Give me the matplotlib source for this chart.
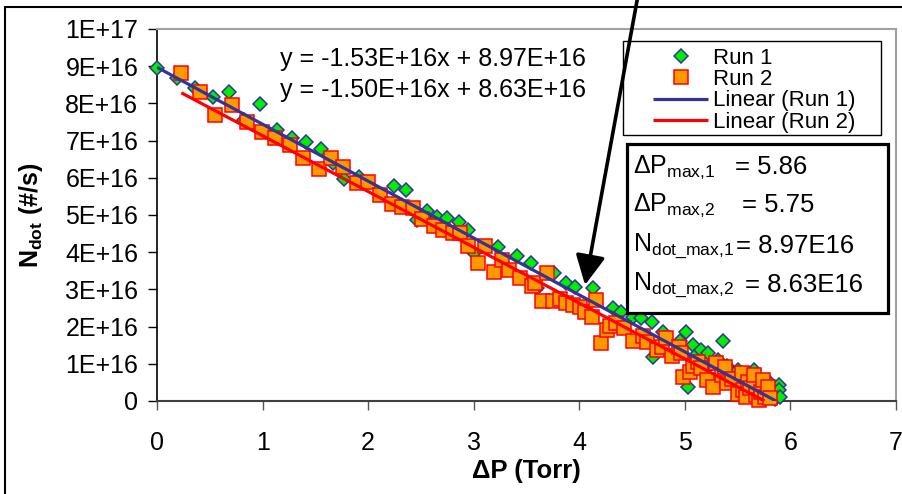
import matplotlib
matplotlib.use("Agg")
import matplotlib.pyplot as plt
from matplotlib.patches import Rectangle
from matplotlib.ticker import FuncFormatter
import numpy as np

plt.rcParams["font.family"] = ["Liberation Sans", "DejaVu Sans"]
plt.rcParams["mathtext.default"] = "regular"

# ---- data: pressure drop (Torr) vs. dot flow rate (units of 1E16 #/s) ----
run1_dp = [0.00, 0.19, 0.36, 0.53, 0.68, 0.82, 0.98, 1.14, 1.28, 1.41,
           1.55, 1.67, 1.77, 1.91, 2.24, 2.36, 2.46, 2.56, 2.65, 2.75,
           2.86, 2.95, 3.00, 3.23, 3.41, 3.54, 3.60, 3.76, 3.87, 3.96,
           4.13, 4.32, 4.39, 4.51, 4.58, 4.69, 4.70, 4.79, 4.95, 5.01,
           5.03, 5.08, 5.10, 5.15, 5.22, 5.25, 5.31, 5.36, 5.40, 5.45,
           5.50, 5.55, 5.60, 5.65, 5.70, 5.75, 5.80, 5.85, 5.89, 5.89,
           5.90]
run1_n = [8.95, 8.68, 8.42, 8.16, 8.31, 7.55, 7.99, 7.28, 7.08, 6.95,
          6.77, 6.40, 5.97, 6.02, 5.78, 5.67, 4.87, 5.12, 4.95, 4.93,
          4.82, 4.60, 3.99, 4.14, 3.90, 3.72, 3.03, 3.43, 3.18, 3.06,
          3.03, 2.50, 2.38, 2.27, 2.23, 2.11, 1.18, 1.85, 1.60, 1.85,
          0.38, 1.50, 1.20, 1.37, 1.30, 1.00, 1.10, 1.62, 0.95, 0.75,
          0.83, 0.50, 0.40, 0.83, 0.60, 0.20, 0.50, 0.05, 0.43, 0.30,
          0.10]

run2_dp = [0.23, 0.41, 0.55, 0.71, 0.85, 0.99, 1.12, 1.26, 1.38, 1.53,
           1.65, 1.76, 1.89, 2.00, 2.11, 2.23, 2.32, 2.42, 2.51, 2.62,
           2.71, 2.80, 2.87, 2.95, 3.04, 3.11, 3.19, 3.27, 3.33, 3.44,
           3.55, 3.58, 3.65, 3.69, 3.75, 3.82, 3.87, 3.94, 4.01, 4.05,
           4.12, 4.16, 4.21, 4.26, 4.29, 4.35, 4.42, 4.51, 4.60, 4.64,
           4.74, 4.78, 4.82, 4.88, 4.94, 4.96, 4.98, 5.05, 5.08, 5.12,
           5.15, 5.21, 5.27, 5.29, 5.35, 5.38, 5.40, 5.45, 5.50, 5.54,
           5.55, 5.58, 5.60, 5.62, 5.65, 5.67, 5.70, 5.72, 5.74, 5.76,
           5.79, 5.81]
run2_n = [8.82, 8.31, 7.69, 7.96, 7.50, 7.23, 7.07, 6.88, 6.53, 6.24,
          6.53, 6.29, 5.87, 5.89, 5.54, 5.30, 5.22, 5.20, 4.90, 4.70,
          4.60, 4.52, 4.52, 4.16, 3.70, 4.16, 3.46, 3.80, 3.52, 3.30,
          3.10, 3.17, 2.70, 3.44, 2.70, 2.75, 2.64, 2.58, 2.52, 2.40,
          2.26, 2.71, 1.57, 1.91, 2.02, 2.10, 1.96, 1.62, 1.75, 1.59,
          1.37, 1.45, 1.69, 1.20, 1.46, 1.29, 0.65, 0.78, 0.95, 1.06,
          0.90, 0.56, 0.38, 1.02, 0.70, 0.91, 0.48, 0.60, 0.20, 0.75,
          0.30, 0.10, 0.51, 0.35, 0.70, 0.16, 0.03, 0.25, 0.56, 0.10,
          0.38, 0.08]

# linear trendlines (slope, intercept) in #/s
fit_slope = [-1.53e16, -1.50e16]
fit_icept = [8.97e16, 8.63e16]
series = ["Run 1", "Run 2"]

SCALE = 1e16

fig = plt.figure(figsize=(9.02, 4.94), dpi=100)
ax = fig.add_axes([0.1741, 0.1883, 0.8193, 0.7530])

ax.plot(np.array(run1_dp), np.array(run1_n) * SCALE, linestyle="none",
        marker="D", markersize=7.3, markerfacecolor="#00ee00",
        markeredgecolor="#333399", markeredgewidth=1.1, label="Run 1",
        clip_on=False, zorder=3)
ax.plot(np.array(run2_dp), np.array(run2_n) * SCALE, linestyle="none",
        marker="s", markersize=10, markerfacecolor="#ff9900",
        markeredgecolor="#ff0000", markeredgewidth=1.1, label="Run 2",
        clip_on=False, zorder=4)

# trendlines run from the first reading to the zero-flow intercept
dp_max = [-b / m for m, b in zip(fit_slope, fit_icept)]
starts = [min(run1_dp), min(run2_dp)]
line_colors = ["#333399", "#ff0000"]
line_z = [6, 5]
for i in range(2):
    xs = np.array([starts[i], dp_max[i]])
    ax.plot(xs, fit_slope[i] * xs + fit_icept[i], color=line_colors[i],
            lw=2.3, zorder=line_z[i], label=f"Linear ({series[i]})",
            solid_capstyle="butt")

ax.set_xlim(0, 7)
ax.set_ylim(0, 1e17)
ax.set_xticks(range(0, 8))
ax.set_yticks(np.arange(0, 11) * 1e16)
ax.yaxis.set_major_formatter(
    FuncFormatter(lambda v, _: "0" if v == 0 else f"{v:.0E}"))
ax.tick_params(axis="both", direction="out", length=6.5, width=1,
               labelsize=18)
ax.tick_params(axis="y", pad=7)
ax.tick_params(axis="x", pad=15, color="#555555")

for side in ("top", "right"):
    ax.spines[side].set_color("#a0a0a0")
    ax.spines[side].set_linewidth(1.5)
ax.spines["left"].set_color("black")
ax.spines["left"].set_linewidth(1.2)
ax.spines["bottom"].set_color("#404040")
ax.spines["bottom"].set_linewidth(1.5)

ax.set_xlabel("ΔP (Torr)", fontsize=18.5, fontweight="bold")
ax.xaxis.set_label_coords(0.5, -0.155)
ax.set_ylabel("N$_{dot}$ (#/s)", fontsize=18, fontweight="bold")
ax.yaxis.set_label_coords(-0.152, 0.5)

# trendline equations
eq_y = [0.9005, 0.817]
for i in range(2):
    ax.text(0.1664, eq_y[i],
            f"y = {fit_slope[i]:.2E}x + {fit_icept[i]:.2E}",
            transform=ax.transAxes, fontsize=18, va="baseline", ha="left")

# legend: handles from the plotted series, square frame drawn separately
ax.add_patch(Rectangle((0.6306, 0.715), 0.349, 0.2527, transform=ax.transAxes,
                       facecolor="white", edgecolor="black", lw=1.0,
                       zorder=7))
leg = ax.legend(loc="upper left", bbox_to_anchor=(0.671, 0.95),
                frameon=False, fontsize=16, labelspacing=0.02,
                handlelength=2.5, handletextpad=0.2, borderpad=0,
                borderaxespad=0, markerscale=1.0)
leg.set_zorder(8)

# box with the extrapolated maxima
ax.add_patch(Rectangle((0.636, 0.2366), 0.3532, 0.4543, transform=ax.transAxes,
                       facecolor="white", edgecolor="black", lw=2.3,
                       zorder=7))
box_labels = ["ΔP$_{max{,}1}$", "ΔP$_{max{,}2}$",
              "N$_{dot\\_max{,}1}$", "N$_{dot\\_max{,}2}$"]
box_values = [f"= {dp_max[0]:.2f}", f"= {dp_max[1]:.2f}",
              f"= {fit_icept[0] / SCALE:.2f}E16",
              f"= {fit_icept[1] / SCALE:.2f}E16"]
box_y = [0.629, 0.527, 0.4167, 0.3118]
box_vx = [0.782, 0.7916, 0.7835, 0.7960]
for lab, val, y, vx in zip(box_labels, box_values, box_y, box_vx):
    ax.text(0.644, y, lab, transform=ax.transAxes, fontsize=18,
            va="center", ha="left", zorder=8)
    ax.text(vx, y, val, transform=ax.transAxes, fontsize=18.5,
            va="center", ha="left", zorder=8)

# pointer arrow coming in from above the frame
ax.annotate("", xy=(4.054, 3.118e16), xytext=(0.7084, 1.0202),
            textcoords="figure fraction", annotation_clip=False,
            arrowprops=dict(arrowstyle="-|>,head_length=0.9,head_width=0.45",
                            mutation_scale=20, lw=2.6, color="black",
                            shrinkA=0, shrinkB=0), zorder=9)

# outer frame and the clipped title above it
fig.add_artist(Rectangle((5 / 902, -0.1), 1.2, (487 / 494) + 0.1,
                         transform=fig.transFigure, fill=False,
                         edgecolor="black", lw=1.5))
fig.text(447 / 902, 500 / 494, "p", color="#ff3300", fontsize=20,
         fontweight="bold", ha="left", va="baseline")

fig.savefig("out.png", dpi=100)
